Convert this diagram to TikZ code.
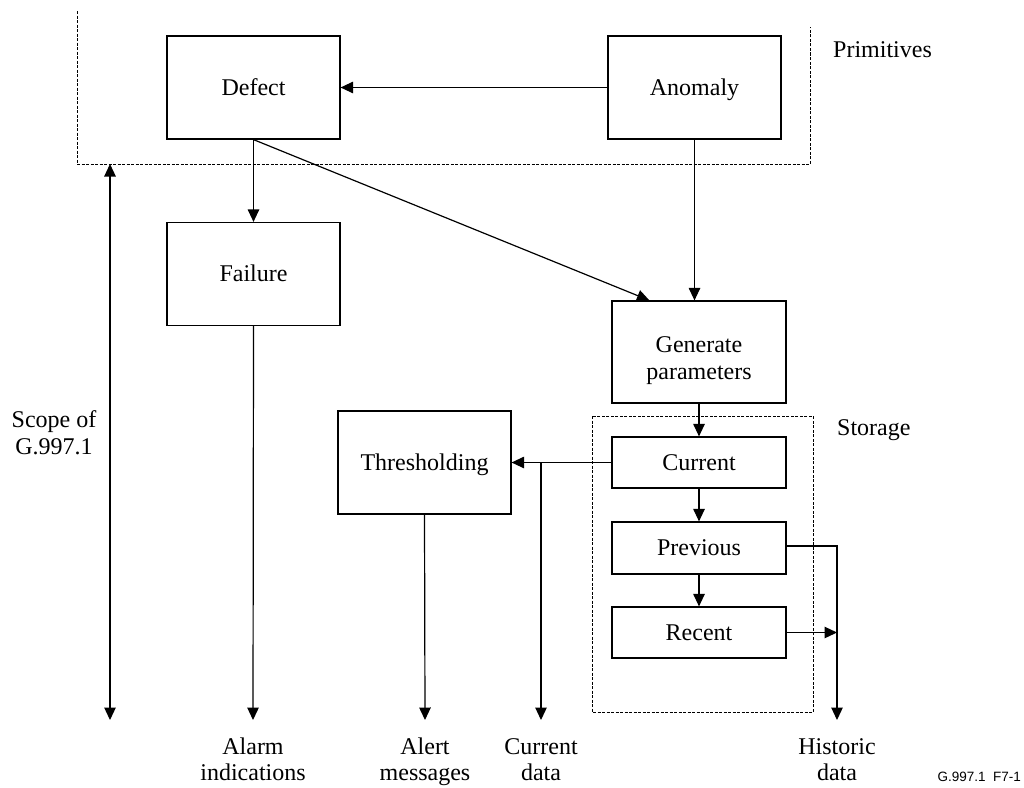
\documentclass[tikz,border=0pt]{standalone}
\usepackage{fontspec}
\setmainfont{Liberation Serif}
\newfontfamily\figsans{Liberation Sans}
\usetikzlibrary{arrows.meta,calc}
\begin{document}
\begin{tikzpicture}[x=1pt,y=-1pt,
  box/.style={draw,line width=1.2pt,inner sep=0pt,font=\fontsize{24}{27}\selectfont,align=center,text height=15.5pt,text depth=0pt},
  bigbox/.style={box,minimum width=173pt,minimum height=103pt},
  smallbox/.style={box,minimum width=174pt,minimum height=51pt},
  conn/.style={line width=1.2pt},
  arr/.style={conn,-{Triangle[length=12.5pt,width=11.5pt]}},
  frame/.style={line width=0.9pt,dash pattern=on 3pt off 1.5pt},
  lbl/.style={font=\fontsize{24}{27}\selectfont,align=center,inner sep=0pt},
  outlbl/.style={font=\fontsize{24}{26}\selectfont,align=center,inner sep=0pt}]
\useasboundingbox (0,0) rectangle (1024,787);
% frames
\draw[frame] (77,11) -- (77,164) -- (810,164) -- (810,27);
\draw[frame] (592,416) rectangle (813,712);
% boxes
\node[bigbox] (defect) at (253.5,87.5) {Defect};
\node[bigbox] (anomaly) at (694.5,87.5) {Anomaly};
\node[bigbox] (failure) at (253.5,274) {Failure};
\node[draw,line width=1.2pt,minimum width=174pt,minimum height=102pt,inner sep=0pt] (gen) at (699,352) {};
\node[lbl] (gentext) at (699,361) {Generate\strut\\parameters\strut};
\node[bigbox] (thresh) at (424.5,462.5) {Thresholding};
\node[smallbox] (current) at (699,462.5) {Current};
\node[smallbox,minimum height=52pt] (previous) at (699,548) {Previous};
\node[smallbox] (recent) at (699,632.5) {Recent};
% labels
\node[lbl,anchor=base west] (prim) at (833,57) {Primitives};
\node[lbl,anchor=base west] (stor) at (837,435) {Storage};
\node[lbl] (scope) at (54,436) {Scope of\strut\\G.997.1\strut};
\node[outlbl] (alarm) at (253,762) {Alarm\strut\\indications\strut};
\node[outlbl] (alert) at (425,762) {Alert\strut\\messages\strut};
\node[outlbl] (curdata) at (541,762) {Current\strut\\data\strut};
\node[outlbl] (hist) at (837,762) {Historic\strut\\data\strut};
\node[font=\figsans\fontsize{13.5}{16}\selectfont,inner sep=0pt,anchor=base east] (fig) at (1021,781) {G.997.1\ \ F7-1};
% coordinates
\coordinate (scopetop) at (110,164);
\coordinate (scopebot) at (110,720);
\coordinate (alarmend) at (253,720);
\coordinate (alertend) at (425,720);
\coordinate (curend) at (541,720);
\coordinate (curbranch) at (541,462.5);
\coordinate (histcorner) at (837,546);
\coordinate (histend) at (837,720);
\coordinate (genin) at ($(gen.north west)+(38,0)$);
% connectors
\draw[arr] (anomaly.west) -- (defect.east);
\draw[arr] (defect.south) -- (failure.north);
\draw[arr] (defect.south) -- (genin);
\draw[arr] (anomaly.south) -- (anomaly.south |- gen.north);
\draw[arr] (gen.south) -- (current.north);
\draw[arr] (current.south) -- (previous.north);
\draw[arr] (previous.south) -- (recent.north);
\draw[arr] (current.west) -- (thresh.east);
\draw[arr] (curbranch) -- (curend);
\draw[arr] (thresh.south) -- (alertend);
\draw[arr] (failure.south) -- (alarmend);
\draw[conn,{Triangle[length=12.5pt,width=11.5pt]}-{Triangle[length=12.5pt,width=11.5pt]}] (scopetop) -- (scopebot);
\draw[arr] (previous.east |- histcorner) -- (histcorner) -- (histend);
\draw[arr] (recent.east) -- (recent.east -| histcorner);
\end{tikzpicture}
\end{document}
